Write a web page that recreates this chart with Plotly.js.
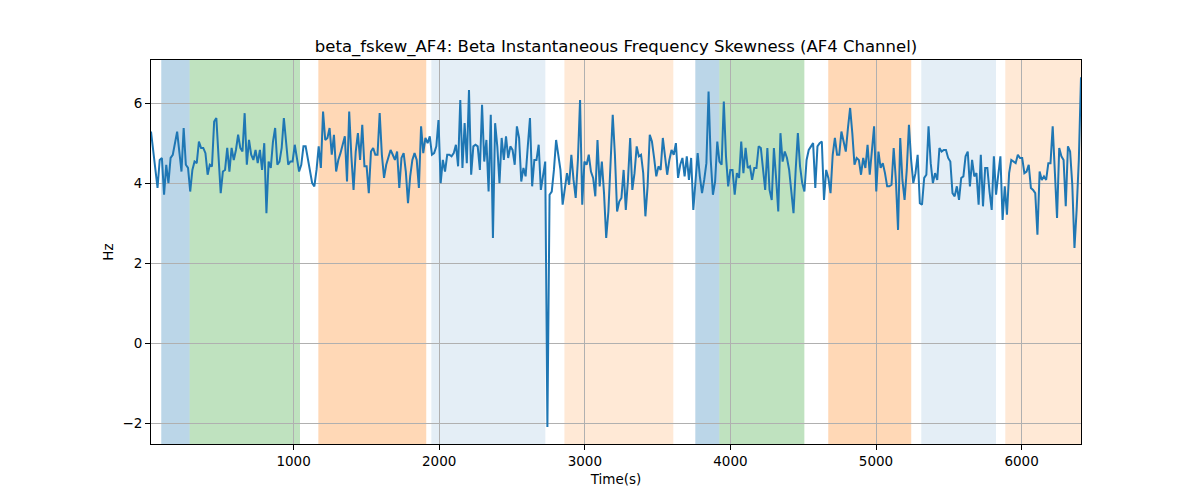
<!DOCTYPE html>
<html>
<head>
<meta charset="utf-8">
<script src="https://cdn.plot.ly/plotly-3.0.1.min.js"></script>
<style>
  html, body { margin: 0; padding: 0; background: #fff; }
  #chart { width: 1200px; height: 500px; }
</style>
</head>
<body>
<div id="chart"></div>
<script>
// time axis bounds (s), samples are evenly spaced between them
const T_START = 20.6;
const T_END = 6408;

// beta instantaneous frequency skewness, AF4 (Hz)
const skewHz = [
  5.29, 4.83, 4.25, 3.88, 4.58, 4.63, 3.71, 4.46, 4.0, 4.63,
  4.71, 5.0, 5.29, 4.79, 4.29, 5.38, 4.46, 4.38, 3.79, 4.33,
  4.54, 4.5, 5.04, 4.88, 4.88, 4.75, 4.21, 4.46, 4.42, 5.54,
  5.63, 4.67, 3.75, 4.29, 4.33, 4.88, 4.29, 4.88, 4.58, 4.83,
  5.21, 4.88, 4.79, 5.75, 4.46, 5.08, 4.71, 4.58, 4.83, 4.5,
  4.83, 4.33, 5.0, 3.25,
  4.54, 4.38, 5.04, 5.38, 4.46, 4.54, 4.88, 5.63, 4.96, 4.46,
  4.54, 4.54, 4.96, 4.58, 4.29, 4.46, 4.92, 4.92, 4.58, 4.29,
  4.0, 3.92, 4.33, 4.92, 4.38, 5.79, 5.08, 5.13, 5.38, 4.71,
  5.21, 4.29, 4.58, 4.75, 4.96, 5.17, 4.04, 5.79, 4.67, 3.83,
  4.79, 5.25, 4.58, 5.46, 4.42, 4.42, 3.75, 4.79, 4.88, 4.71,
  4.71, 5.75, 4.71, 4.13,
  4.46, 4.67, 4.83, 4.71, 4.58, 4.79, 3.88, 4.63, 4.75, 4.29,
  3.5, 4.17, 4.58, 4.75, 4.58, 3.88, 5.42, 4.75, 5.13, 5.0,
  5.17, 4.71, 4.75, 4.92, 5.58, 4.0, 4.58, 4.29, 4.71, 4.71,
  4.67, 4.75, 4.96, 4.42, 6.08, 4.38, 5.5, 4.5, 6.33, 4.21,
  4.92, 4.96, 4.92, 4.33, 5.96, 4.54, 5.08, 3.79, 5.71, 2.63,
  5.5, 4.92, 4.0, 5.13, 4.58,
  5.17, 4.63, 4.92, 4.83, 4.46, 5.42, 5.13, 4.04, 4.38, 4.17,
  4.92, 5.63, 3.92, 4.58, 4.58, 4.96, 3.83, 4.17, 4.54, -2.1,
  3.71, 3.79, 4.33, 5.08, 4.71, 4.33, 3.46, 3.88, 4.25, 3.96,
  4.71, 4.08, 3.63, 4.58, 6.08, 3.46, 4.54, 4.46, 4.71, 4.29,
  4.13, 3.67, 5.08, 3.92, 4.54, 3.75, 2.63, 3.29, 4.58, 5.71,
  4.71, 3.29, 3.54, 3.63, 4.33, 3.33, 4.08,
  5.13, 3.83, 4.25, 4.92, 4.67, 4.71, 4.25, 3.17, 3.92, 5.21,
  5.04, 4.63, 4.17, 4.42, 4.33, 5.13, 4.71, 4.21, 4.58, 4.83,
  4.71, 5.0, 4.13, 4.46, 4.63, 4.17, 4.67, 4.08, 4.63, 3.33,
  4.04, 4.75, 4.17, 3.75, 4.08, 4.5, 6.29, 4.58, 3.71, 4.04,
  5.04, 4.54, 4.46, 6.04, 4.67, 3.92, 4.33, 4.33, 3.71, 4.25,
  4.13, 5.04, 4.25, 4.88, 4.38,
  4.42, 4.08, 4.38, 4.38, 4.92, 4.88, 4.33, 3.83, 4.88, 3.83,
  3.58, 4.88, 4.13, 3.29, 5.25, 4.54, 4.79, 4.63, 4.33, 3.75,
  3.25, 4.33, 5.25, 4.42, 4.0, 3.79, 4.58, 4.83, 4.92, 5.0,
  3.88, 4.92, 5.0, 5.04, 3.58, 4.33, 4.13, 3.75, 4.71, 5.13,
  4.71, 4.71, 5.29, 5.04, 4.79, 5.38, 5.88, 5.25, 4.46, 4.63,
  4.58, 4.21, 4.63, 4.38, 4.96,
  4.21, 4.88, 5.42, 3.79, 4.79, 4.38, 4.5, 4.25, 3.92, 3.92,
  3.96, 4.88, 4.08, 2.83, 5.13, 4.08, 3.58, 4.33, 5.46, 4.58,
  4.0, 4.25, 4.71, 3.5, 3.46, 4.13, 4.21, 5.42, 4.5, 4.0,
  4.25, 4.08, 4.88, 4.79, 4.83, 4.83, 4.63, 4.54, 3.75, 3.67,
  3.92, 3.58, 4.13, 4.17, 4.67, 4.79, 3.92, 4.58, 4.17, 4.25,
  3.46, 4.71, 3.42, 4.38, 4.38, 3.79,
  3.33, 4.67, 3.71, 4.21, 4.67, 3.08, 3.92, 3.21, 4.25, 4.58,
  4.54, 4.5, 4.71, 4.63, 4.63, 4.25, 4.29, 4.46, 3.88, 3.83,
  3.75, 2.71, 4.29, 4.08, 4.17, 4.08, 4.5, 4.5, 5.42, 4.17,
  3.13, 4.88, 4.67, 4.58, 3.42, 4.92, 4.79, 3.96, 2.38, 3.33,
  4.58, 6.65,
];

// shaded segments (s)
const spanStart = [91, 286, 1170, 1946, 2860, 3759, 3924, 4672, 5311, 5888];
const spanEnd   = [286, 1044, 1911, 2729, 3608, 3924, 4508, 5242, 5824, 6408];
const spanKind  = ['blue', 'green', 'orange', 'paleBlue', 'paleOrange',
                   'blue', 'green', 'orange', 'paleBlue', 'paleOrange'];

const xTicks = [1000, 2000, 3000, 4000, 5000, 6000];
const yTicks = [-2, 0, 2, 4, 6];

const SPAN_FILL = {
  blue: 'rgba(31, 119, 180, 0.3)',
  green: 'rgba(44, 160, 44, 0.3)',
  orange: 'rgba(255, 127, 14, 0.3)',
  paleBlue: 'rgba(31, 119, 180, 0.12)',
  paleOrange: 'rgba(255, 127, 14, 0.17)',
};

const FONT = 'DejaVu Sans, sans-serif';

const step = (T_END - T_START) / (skewHz.length - 1);
const timeS = skewHz.map((_, i) => T_START + i * step);

const shapes = spanStart.map((s, i) => ({
  type: 'rect',
  xref: 'x', x0: s, x1: spanEnd[i],
  yref: 'paper', y0: 0, y1: 1,
  fillcolor: SPAN_FILL[spanKind[i]],
  line: { width: 0 },
  layer: 'below',
}));

const traces = [{
  x: timeS,
  y: skewHz,
  type: 'scatter',
  mode: 'lines',
  line: { color: '#1f77b4', width: 2 },
  hoverinfo: 'x+y',
}];

const layout = {
  width: 1200,
  height: 500,
  margin: { t: 60, r: 119, b: 56, l: 151 },
  paper_bgcolor: '#ffffff',
  plot_bgcolor: '#ffffff',
  font: { family: FONT, size: 13.5, color: '#000' },
  showlegend: false,
  title: {
    text: 'beta_fskew_AF4: Beta Instantaneous Frequency Skewness (AF4 Channel)',
    font: { family: FONT, size: 16.5, color: '#000' },
    xref: 'paper', x: 0.5, xanchor: 'center',
    y: 1 - 46 / 500, yanchor: 'middle',
  },
  xaxis: {
    range: [T_START, T_END],
    tickvals: xTicks,
    ticks: 'outside', ticklen: 5, tickwidth: 1, tickcolor: '#000',
    showgrid: true, gridcolor: '#b0b0b0', gridwidth: 1,
    zeroline: false,
    showline: true, linecolor: '#000', linewidth: 1, mirror: true,
    title: { text: 'Time(s)', font: { family: FONT, size: 13.5 }, standoff: 6 },
  },
  yaxis: {
    range: [-2.525, 7.08],
    tickvals: yTicks,
    ticks: 'outside', ticklen: 5, tickwidth: 1, tickcolor: '#000',
    showgrid: true, gridcolor: '#b0b0b0', gridwidth: 1,
    zeroline: false,
    showline: true, linecolor: '#000', linewidth: 1, mirror: true,
    title: { text: 'Hz', font: { family: FONT, size: 13.5 }, standoff: 5 },
  },
  shapes: shapes,
};

Plotly.newPlot('chart', traces, layout, { displayModeBar: false, staticPlot: true });
</script>
</body>
</html>
